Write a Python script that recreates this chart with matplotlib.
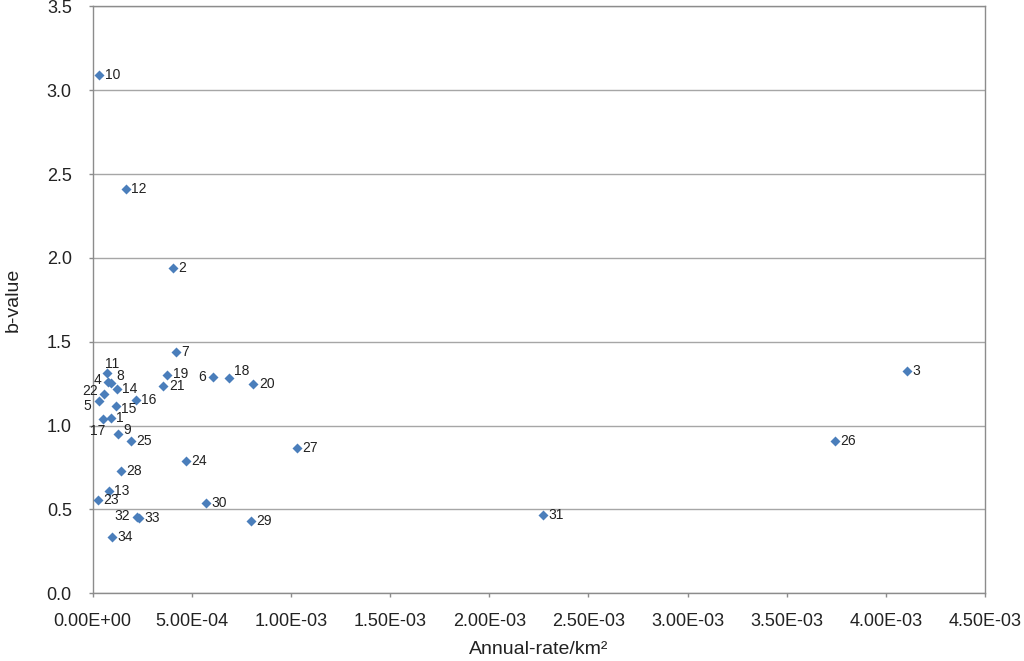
import matplotlib.pyplot as plt

plt.rcParams['font.family'] = ['Liberation Sans', 'DejaVu Sans']

# site number, annual rate per km2, b-value
site_ids = [1, 2, 3, 4, 5, 6, 7, 8, 9, 10, 11, 12, 13, 14, 15, 16, 17,
            18, 19, 20, 21, 22, 23, 24, 25, 26, 27, 28, 29, 30, 31, 32, 33, 34]
annual_rate = [9.1e-5, 4.05e-4, 4.106e-3, 7.9e-5, 3.3e-5, 6.05e-4, 4.19e-4, 9.2e-5,
               1.26e-4, 3.2e-5, 7.0e-5, 1.66e-4, 8.1e-5, 1.21e-4, 1.16e-4, 2.17e-4,
               5.3e-5, 6.87e-4, 3.75e-4, 8.10e-4, 3.56e-4, 5.5e-5, 2.5e-5, 4.69e-4,
               1.93e-4, 3.743e-3, 1.03e-3, 1.43e-4, 7.98e-4, 5.70e-4, 2.27e-3,
               2.25e-4, 2.35e-4, 9.7e-5]
b_value = [1.047, 1.942, 1.325, 1.262, 1.145, 1.292, 1.439, 1.256, 0.948, 3.090,
           1.312, 2.411, 0.612, 1.216, 1.117, 1.151, 1.041, 1.286, 1.300, 1.250,
           1.234, 1.188, 0.556, 0.789, 0.908, 0.908, 0.866, 0.729, 0.433, 0.540,
           0.467, 0.455, 0.447, 0.338]

x_ticks = [0, 5e-4, 1e-3, 1.5e-3, 2e-3, 2.5e-3, 3e-3, 3.5e-3, 4e-3, 4.5e-3]
x_tick_labels = ['0.00E+00', '5.00E-04', '1.00E-03', '1.50E-03', '2.00E-03',
                 '2.50E-03', '3.00E-03', '3.50E-03', '4.00E-03', '4.50E-03']
y_ticks = [0.0, 0.5, 1.0, 1.5, 2.0, 2.5, 3.0, 3.5]

# label placement tweaks for the crowded cluster: (dx, dy in points, ha)
label_pos = {
    4: (-5, 1, 'right'), 5: (-6, -3, 'right'), 6: (-5, 0, 'right'),
    8: (4, 5, 'left'), 9: (4, 3, 'left'), 11: (4, 7, 'center'),
    15: (4, -2, 'left'), 17: (-4, -9, 'center'), 18: (4, 5, 'left'),
    19: (4, 1, 'left'), 22: (-4, 2, 'right'), 32: (-5, 1, 'right'),
}

grey = '#8c8c8c'
blue = '#4a7ebb'

fig = plt.figure(figsize=(10.24, 6.61), dpi=100)
ax = fig.add_axes([0.0905, 0.1024, 0.8715, 0.8878])

ax.scatter(annual_rate, b_value, marker='D', s=26, color=blue, zorder=3, linewidths=0)

for sid, xv, yv in zip(site_ids, annual_rate, b_value):
    dx, dy, ha = label_pos.get(sid, (4, 0, 'left'))
    ax.annotate(str(sid), (xv, yv), xytext=(dx, dy), textcoords='offset points',
                ha=ha, va='center', fontsize=10, color='#222222')

ax.set_xlim(0, 4.5e-3)
ax.set_ylim(0, 3.5)
ax.set_xticks(x_ticks)
ax.set_xticklabels(x_tick_labels)
ax.set_yticks(y_ticks)
ax.set_yticklabels([f'{v:.1f}' for v in y_ticks])
ax.tick_params(axis='both', labelsize=13, colors=grey, labelcolor='#222222',
               length=3, width=1, direction='out')
ax.tick_params(axis='x', pad=11)
ax.tick_params(axis='y', pad=12)

ax.yaxis.grid(True, color='#a6a6a6', linewidth=1)
ax.set_axisbelow(True)
for side in ['left', 'bottom', 'right', 'top']:
    ax.spines[side].set_color(grey)
    ax.spines[side].set_linewidth(1)

ax.set_xlabel('Annual-rate/km²', fontsize=14, color='#222222', labelpad=8)
ax.set_ylabel('b-value', fontsize=14, color='#222222', labelpad=18)

fig.savefig('out.png', dpi=100, facecolor='white')
